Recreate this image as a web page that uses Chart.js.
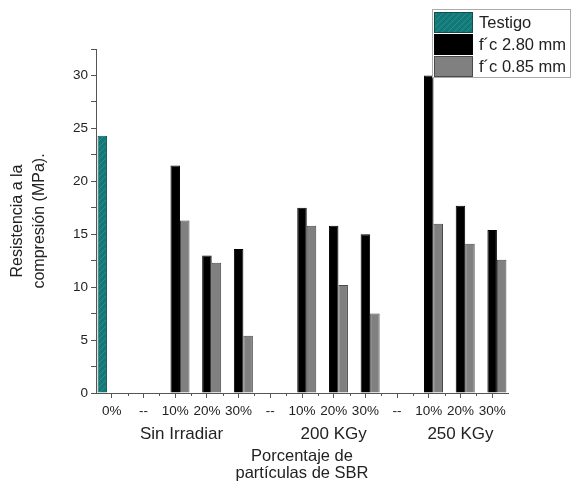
<!DOCTYPE html>
<html>
<head>
<meta charset="utf-8">
<script src="https://cdn.jsdelivr.net/npm/chart.js@4/dist/chart.umd.min.js"></script>
<style>
  html, body { margin: 0; padding: 0; background: #fff; }
  #wrap { width: 572px; height: 482px; }
</style>
</head>
<body>
<div id="wrap"><canvas id="chart" width="572" height="482"></canvas></div>
<script>
// ── data ────────────────────────────────────────────────────────────────────
const CATEGORIES = ['0%', '--', '10%', '20%', '30%', '--', '10%', '20%', '30%', '--', '10%', '20%', '30%'];
const TESTIGO    = [24.3, null, null, null, null, null, null, null, null, null, null, null, null];
const FC_280     = [null, null, 21.5, 13.0, 13.6, null, 17.5, 15.8, 15.0, null, 30.0, 17.7, 15.4];
const FC_085     = [null, null, 16.3, 12.3, 5.4,  null, 15.8, 10.2, 7.5,  null, 16.0, 14.1, 12.6];
const SERIES     = ['Testigo', 'f\u00b4c 2.80 mm', 'f\u00b4c 0.85 mm'];
const GROUPS     = ['Sin Irradiar', '200 KGy', '250 KGy'];
const GROUP_AT   = [2.2, 7, 11];   // category index the group label sits under
const Y_MAX = 32.5, Y_STEP = 2.5;

const FONT = '"Liberation Sans", Arial, sans-serif';
const TEXT = '#222';
const AXIS = '#555';

// hatched teal fill like the original
function hatch() {
  const c = document.createElement('canvas');
  c.width = 6; c.height = 6;
  const g = c.getContext('2d');
  g.fillStyle = '#137878';
  g.fillRect(0, 0, 6, 6);
  g.strokeStyle = '#2a8e8f';
  g.lineWidth = 1;
  g.beginPath();
  g.moveTo(0, 6); g.lineTo(6, 0);
  g.moveTo(-3, 3); g.lineTo(3, -3);
  g.moveTo(3, 9); g.lineTo(9, 3);
  g.stroke();
  return g.createPattern(c, 'repeat');
}
const TEAL = hatch();

// ── group labels, minor x ticks and the boxed legend ───────────────────────
const extras = {
  id: 'extras',
  afterDraw(chart) {
    const { ctx, chartArea: a } = chart;
    const n = CATEGORIES.length;
    const w = (a.right - a.left) / n;
    ctx.save();

    // minor ticks on category boundaries
    ctx.strokeStyle = AXIS;
    ctx.lineWidth = 1;
    ctx.beginPath();
    for (let k = 1; k < n; k++) {
      const px = Math.round(a.left + k * w) + 0.5;
      ctx.moveTo(px, a.bottom);
      ctx.lineTo(px, a.bottom + 3);
    }
    ctx.stroke();

    // group names under the percentages
    ctx.fillStyle = TEXT;
    ctx.font = '17px ' + FONT;
    ctx.textAlign = 'center';
    ctx.textBaseline = 'middle';
    GROUPS.forEach((g, i) => {
      ctx.fillText(g, a.left + (GROUP_AT[i] + 0.5) * w, 434);
    });

    // legend box
    const lx = 432, ly = 9, rowH = 22;
    ctx.fillStyle = '#fff';
    ctx.fillRect(lx, ly, 139, 69);
    ctx.strokeStyle = '#aaa';
    ctx.strokeRect(lx + 0.5, ly + 0.5, 138, 68);
    chart.data.datasets.forEach((ds, i) => {
      const y0 = ly + 3 + i * rowH;
      ctx.fillStyle = ds.backgroundColor;
      ctx.fillRect(lx + 2, y0, 39, rowH - 1);
      ctx.strokeStyle = ds.borderColor;
      ctx.strokeRect(lx + 2.5, y0 + 0.5, 38, rowH - 2);
      ctx.fillStyle = TEXT;
      ctx.font = '16.5px ' + FONT;
      ctx.textAlign = 'left';
      ctx.fillText(ds.label, lx + 47, y0 + rowH / 2);
    });
    ctx.restore();
  }
};

new Chart(document.getElementById('chart'), {
  type: 'bar',
  data: {
    labels: CATEGORIES,
    datasets: [
      { label: SERIES[0], data: TESTIGO, backgroundColor: TEAL,      borderColor: '#0e4f50', borderWidth: 1 },
      { label: SERIES[1], data: FC_280,  backgroundColor: '#000000', borderColor: '#000000', borderWidth: 1 },
      { label: SERIES[2], data: FC_085,  backgroundColor: '#808080', borderColor: '#4a4a4a', borderWidth: 1 },
    ]
  },
  options: {
    responsive: false,
    animation: false,
    layout: { padding: { top: 49, right: 64, bottom: 0, left: 0 } },
    datasets: { bar: { categoryPercentage: 0.9, barPercentage: 1.0 } },
    scales: {
      x: {
        afterFit: s => { s.height = 89; },
        grid: { display: true, drawOnChartArea: false, offset: false, tickLength: 5, color: AXIS },
        border: { color: AXIS, width: 1 },
        ticks: { color: TEXT, font: { family: FONT, size: 13.5 }, padding: 5, maxRotation: 0, autoSkip: false },
        title: {
          display: true,
          text: ['Porcentaje de', 'part\u00edculas de SBR'],
          color: TEXT,
          font: { family: FONT, size: 16.5, lineHeight: 1.02 },
          padding: { top: 0, bottom: 0 }
        }
      },
      y: {
        min: 0, max: Y_MAX,
        afterFit: s => { s.width = 96; },
        grid: { display: true, drawOnChartArea: false, tickLength: 5, color: AXIS },
        border: { color: AXIS, width: 1 },
        ticks: {
          stepSize: Y_STEP,
          color: TEXT,
          font: { family: FONT, size: 13.5 },
          padding: 3,
          callback: v => (v % 5 === 0 ? v : '')
        },
        title: {
          display: true,
          text: ['Resistencia a la', 'compresi\u00f3n (MPa).'],
          color: TEXT,
          font: { family: FONT, size: 16, lineHeight: 1.4 },
          padding: { top: 6, bottom: 0 }
        }
      }
    },
    plugins: { legend: { display: false }, tooltip: { enabled: false } }
  },
  plugins: [extras]
});
</script>
</body>
</html>
